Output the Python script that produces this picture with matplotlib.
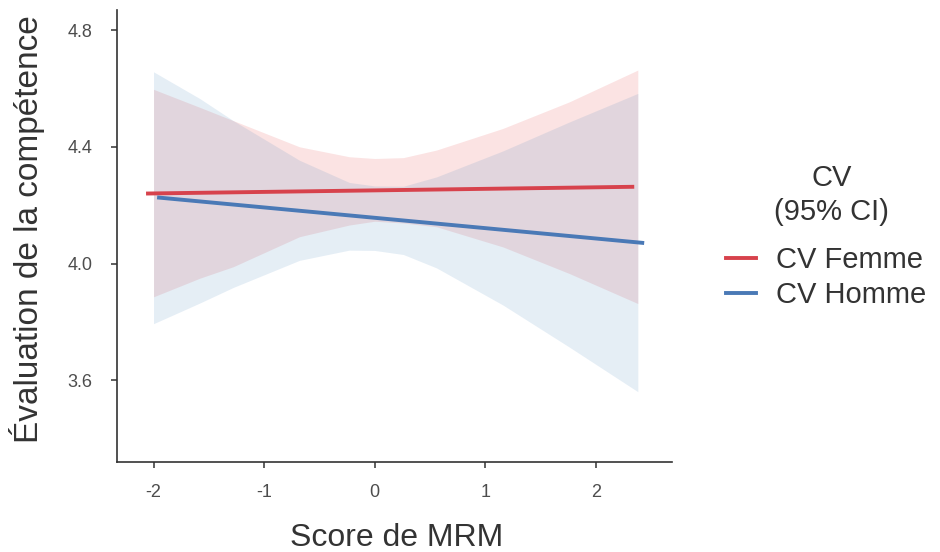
import matplotlib
matplotlib.use("Agg")
import matplotlib.pyplot as plt

plt.rcParams['font.family'] = ['Liberation Sans', 'DejaVu Sans']
plt.rcParams['axes.unicode_minus'] = False

# ribbons (95% CI)
ci_x = [-2.0, -1.58, -1.28, -0.68, -0.23, 0.0, 0.26, 0.56, 1.16, 1.76, 2.38]
femme_hi = [4.597, 4.535, 4.490, 4.400, 4.366, 4.360, 4.363, 4.389, 4.463, 4.554, 4.663]
femme_lo = [3.886, 3.950, 3.989, 4.092, 4.132, 4.145, 4.139, 4.126, 4.057, 3.966, 3.863]
homme_hi = [4.657, 4.565, 4.490, 4.354, 4.278, 4.266, 4.265, 4.297, 4.386, 4.485, 4.583]
homme_lo = [3.794, 3.865, 3.918, 4.011, 4.046, 4.045, 4.031, 3.985, 3.858, 3.714, 3.561]

# fitted lines (dodged a little in x)
femme_x = [-2.05, 2.33]
femme_y = [4.240, 4.263]
homme_x = [-1.95, 2.42]
homme_y = [4.226, 4.071]

labels = ['CV Femme', 'CV Homme']
colors = ['#d7424c', '#4a79b6']

fig = plt.figure(figsize=(9.4, 5.52), dpi=100)
ax = fig.add_axes([0.1245, 0.163, 0.5905, 0.819])

ax.fill_between(ci_x, femme_lo, femme_hi, color='#e41a1c', alpha=0.12, lw=0)
ax.fill_between(ci_x, homme_lo, homme_hi, color='#377eb8', alpha=0.13, lw=0)
ax.plot(femme_x, femme_y, color=colors[0], lw=2.8, label=labels[0])
ax.plot(homme_x, homme_y, color=colors[1], lw=2.8, label=labels[1])

ax.set_xlim(-2.33, 2.69)
ax.set_ylim(3.32, 4.869)
ax.set_xticks([-2, -1, 0, 1, 2])
ax.set_yticks([3.6, 4.0, 4.4, 4.8])
ax.set_yticklabels(['3.6', '4.0', '4.4', '4.8'])
ax.tick_params(colors='#333333', labelcolor='#4d4d4d', labelsize=13, length=4.5, width=1.1)
ax.tick_params(axis='y', pad=13)
ax.tick_params(axis='x', pad=11)
for s in ['top', 'right']:
    ax.spines[s].set_visible(False)
for s in ['left', 'bottom']:
    ax.spines[s].set_color('#333333')
    ax.spines[s].set_linewidth(1.2)

ax.set_xlabel("Score de MRM", fontsize=23, color='#333333')
ax.set_ylabel("Évaluation de la compétence", fontsize=24, color='#333333')
ax.xaxis.set_label_coords(0.5045, -0.135)
ax.yaxis.set_label_coords(-0.13, 0.515)

# legend title, then the entries
fig.text(0.885, 1 - 195 / 552, "CV\n(95% CI)", ha='center', va='center',
         fontsize=21, color='#333333', linespacing=1.25)
leg = fig.legend(loc='center left', bbox_to_anchor=(0.757, 0.497), frameon=False,
                 fontsize=21, borderpad=0, handlelength=1.03, handletextpad=0.68,
                 labelspacing=0.26)
for t in leg.get_texts():
    t.set_color('#333333')

fig.savefig('out.png', dpi=100)
